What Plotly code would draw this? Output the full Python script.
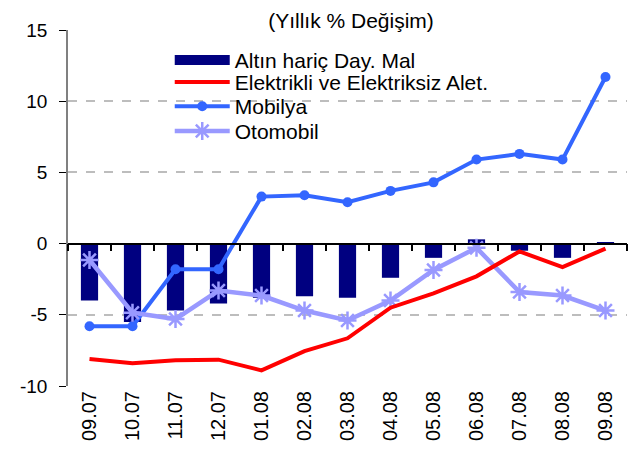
import plotly.graph_objects as go

# ------------------------------------------------------------
# data (yearly % change)
# ------------------------------------------------------------
months = ["09.07", "10.07", "11.07", "12.07", "01.08", "02.08", "03.08",
          "04.08", "05.08", "06.08", "07.08", "08.08", "09.08"]

durable_ex_gold = [-4.0, -5.5, -4.7, -4.2, -3.8, -3.7, -3.8,
                   -2.4, -1.0, 0.3, -0.5, -1.0, 0.1]
electric = [-8.1, -8.4, -8.2, -8.15, -8.9, -7.55, -6.65,
            -4.5, -3.5, -2.3, -0.55, -1.65, -0.35]
furniture = [-5.8, -5.8, -1.8, -1.8, 3.3, 3.4, 2.9,
             3.7, 4.3, 5.9, 6.3, 5.9, 11.7]
automobile = [-1.15, -4.85, -5.3, -3.3, -3.65, -4.7, -5.4,
              -4.0, -1.85, -0.3, -3.4, -3.65, -4.7]

y_ticks = [15, 10, 5, 0, -5, -10]
y_ticktext = ["15", "10", "5", "0", "-5", "-10"]

font_name = "Liberation Sans, Arial, sans-serif"
navy = "#000080"
legend_font = dict(size=21, family=font_name, color="black")

fig = go.Figure()

fig.add_trace(go.Bar(
    x=months, y=durable_ex_gold,
    name="Altın hariç Day. Mal",
    marker=dict(color=navy, line=dict(width=0)),
    width=0.4,
    showlegend=False,
))
# legend entry for the bars, drawn as a wide block like the original
fig.add_trace(go.Scatter(
    x=[None], y=[None], name="Altın hariç Day. Mal",
    mode="lines", line=dict(color=navy, width=14),
    legend="legend",
))

fig.add_trace(go.Scatter(
    x=months, y=furniture,
    name="Mobilya",
    mode="lines+markers",
    line=dict(color="#3366FF", width=4),
    marker=dict(symbol="circle", size=10, color="#3366FF"),
    legend="legend3",
))

fig.add_trace(go.Scatter(
    x=months, y=automobile,
    name="Otomobil",
    mode="lines+markers",
    line=dict(color="#9999FF", width=4.5),
    marker=dict(symbol="asterisk-open", size=15,
                line=dict(color="#9999FF", width=2.5)),
    legend="legend4",
))

fig.add_trace(go.Scatter(
    x=months, y=electric,
    name="Elektrikli ve Elektriksiz Alet.",
    mode="lines",
    line=dict(color="#FF0000", width=4),
    legend="legend2",
))


def row_legend(ypos):
    # one legend per row so the row spacing follows the original
    return dict(x=0.182, y=ypos, xanchor="left", yanchor="middle",
                bgcolor="rgba(0,0,0,0)", itemwidth=55,
                font=legend_font)


fig.update_layout(
    width=636, height=462,
    margin=dict(l=54, r=17, t=18, b=84),
    paper_bgcolor="white",
    plot_bgcolor="white",
    font=dict(family=font_name, color="black"),
    title=dict(text="(Yıllık % Değişim)", x=343 / 636, y=1 - 5 / 462,
               xanchor="center", yanchor="top", pad=dict(t=0),
               font=dict(size=21, family=font_name, color="black")),
    showlegend=True,
    legend=row_legend(0.915),
    legend2=row_legend(0.853),
    legend3=row_legend(0.785),
    legend4=row_legend(0.715),
    xaxis=dict(
        type="category",
        showline=False, showgrid=False, zeroline=False,
        ticks="", tickangle=-90,
        tickfont=dict(size=20, family=font_name, color="black"),
        range=[-0.5, 12.5],
    ),
    # axis line with boundary ticks drawn at the zero level
    xaxis2=dict(
        overlaying="x", anchor="free", position=0.4,
        range=[-0.5, 12.5], tick0=-0.5, dtick=1,
        showticklabels=False, showgrid=False, zeroline=False,
        showline=True, linecolor="black", linewidth=1.5,
        ticks="outside", ticklen=7, tickcolor="black", tickwidth=1.5,
    ),
    yaxis=dict(
        range=[-10, 15],
        tickvals=y_ticks, ticktext=y_ticktext,
        showline=True, linecolor="#808080", linewidth=1.5,
        ticks="outside", ticklen=7, tickcolor="black",
        ticklabelstandoff=8,
        showgrid=True, gridcolor="#BDBDBD", griddash="dash", gridwidth=1.5,
        zeroline=False,
        tickfont=dict(size=19, family=font_name, color="black"),
    ),
)

# invisible trace so the zero-level axis is drawn
fig.add_trace(go.Scatter(x=[0], y=[0], xaxis="x2", mode="markers",
                         marker=dict(opacity=0), showlegend=False,
                         hoverinfo="skip"))

fig.write_html("out.html")
